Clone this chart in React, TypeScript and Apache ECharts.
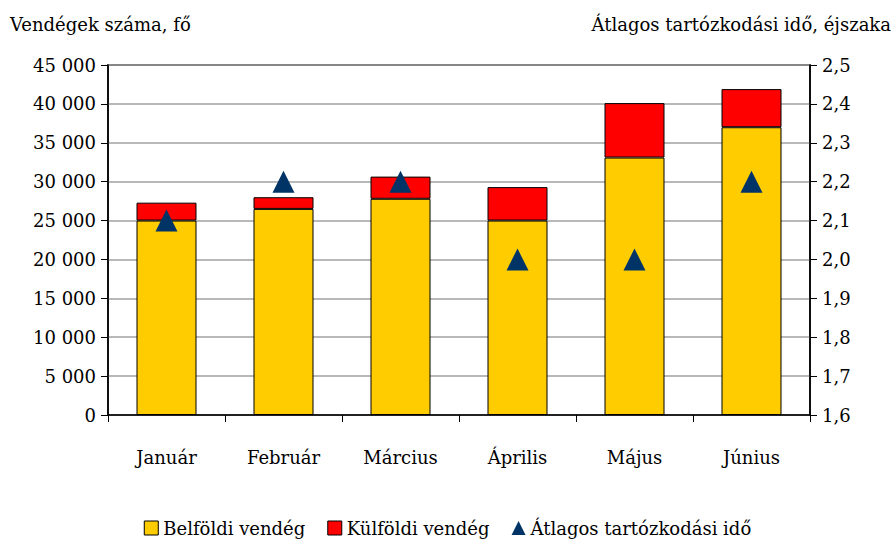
import React, { useEffect, useRef } from "react";
import * as echarts from "echarts";

const categories = ["Január", "Február", "Március", "Április", "Május", "Június"];
const belfoldi = [25000, 26500, 27800, 25000, 33100, 37000];
const kulfoldi = [2300, 1500, 2850, 4300, 7000, 4900];
const atlagos = [2.1, 2.2, 2.2, 2.0, 2.0, 2.2];

const FONT = "DejaVu Serif, serif";
const FS = 18;
const TXT = "#000";

export default function App() {
  const ref = useRef<HTMLDivElement>(null);
  useEffect(() => {
    document.body.style.margin = "0";
    const chart = echarts.init(ref.current!, null, { renderer: "svg" });
    chart.setOption({
      animation: false,
      textStyle: { fontFamily: FONT, color: TXT },
      grid: {
        left: 108,
        right: 85,
        top: 65,
        bottom: 125,
        show: true,
        borderColor: "#000",
        borderWidth: 1.5,
        containLabel: false,
      },
      graphic: [
        {
          type: "text",
          left: 10,
          top: 15,
          style: { text: "Vendégek száma, fő", fontFamily: FONT, fontSize: FS, fill: TXT },
        },
        {
          type: "text",
          right: 4,
          top: 15,
          style: { text: "Átlagos tartózkodási idő, éjszaka", fontFamily: FONT, fontSize: FS, fill: TXT },
        },
      ],
      legend: {
        top: 514,
        left: "center",
        itemWidth: 14,
        itemHeight: 14,
        itemGap: 22,
        textStyle: { fontFamily: FONT, fontSize: FS, color: TXT },
        data: [
          { name: "Belföldi vendég", icon: "rect", itemStyle: { borderColor: "#000", borderWidth: 1 } },
          { name: "Külföldi vendég", icon: "rect", itemStyle: { borderColor: "#000", borderWidth: 1 } },
          { name: "Átlagos tartózkodási idő", icon: "triangle", itemWidth: 19, itemHeight: 19 },
        ],
      },
      xAxis: {
        type: "category",
        data: categories,
        axisLine: { lineStyle: { color: "#000", width: 1.5 } },
        axisTick: { show: true, length: 7, lineStyle: { color: "#000" } },
        axisLabel: { fontFamily: FONT, fontSize: FS, color: TXT, margin: 33 },
      },
      yAxis: [
        {
          type: "value",
          min: 0,
          max: 45000,
          interval: 5000,
          axisLine: { show: true, lineStyle: { color: "#000", width: 1.5 } },
          axisTick: { show: true, length: 7, lineStyle: { color: "#000" } },
          splitLine: { show: true, lineStyle: { color: "#a0a0a0", width: 1.5 } },
          axisLabel: {
            fontFamily: FONT,
            fontSize: FS,
            color: TXT,
            margin: 12,
            formatter: (v: number) => String(v).replace(/\B(?=(\d{3})+(?!\d))/g, " "),
          },
        },
        {
          type: "value",
          min: 1.6,
          max: 2.5,
          interval: 0.1,
          position: "right",
          axisLine: { show: true, lineStyle: { color: "#000", width: 1.5 } },
          axisTick: { show: true, length: 7, lineStyle: { color: "#000" } },
          splitLine: { show: false },
          axisLabel: {
            fontFamily: FONT,
            fontSize: FS,
            color: TXT,
            margin: 12,
            formatter: (v: number) => v.toFixed(1).replace(".", ","),
          },
        },
      ],
      series: [
        {
          name: "Belföldi vendég",
          type: "bar",
          stack: "v",
          barWidth: 60,
          data: belfoldi,
          itemStyle: { color: "#FFCC00", borderColor: "#000", borderWidth: 1 },
        },
        {
          name: "Külföldi vendég",
          type: "bar",
          stack: "v",
          barWidth: 60,
          data: kulfoldi,
          itemStyle: { color: "#FF0000", borderColor: "#000", borderWidth: 1 },
        },
        {
          name: "Átlagos tartózkodási idő",
          type: "scatter",
          yAxisIndex: 1,
          symbol: "triangle",
          symbolSize: [22, 22],
          data: atlagos,
          itemStyle: { color: "#003366", opacity: 1 },
          z: 5,
        },
      ],
    });
    return () => chart.dispose();
  }, []);
  return (
    <div
      ref={ref}
      style={{ width: 895, height: 540, position: "absolute", left: 0, top: 0 }}
    />
  );
}
